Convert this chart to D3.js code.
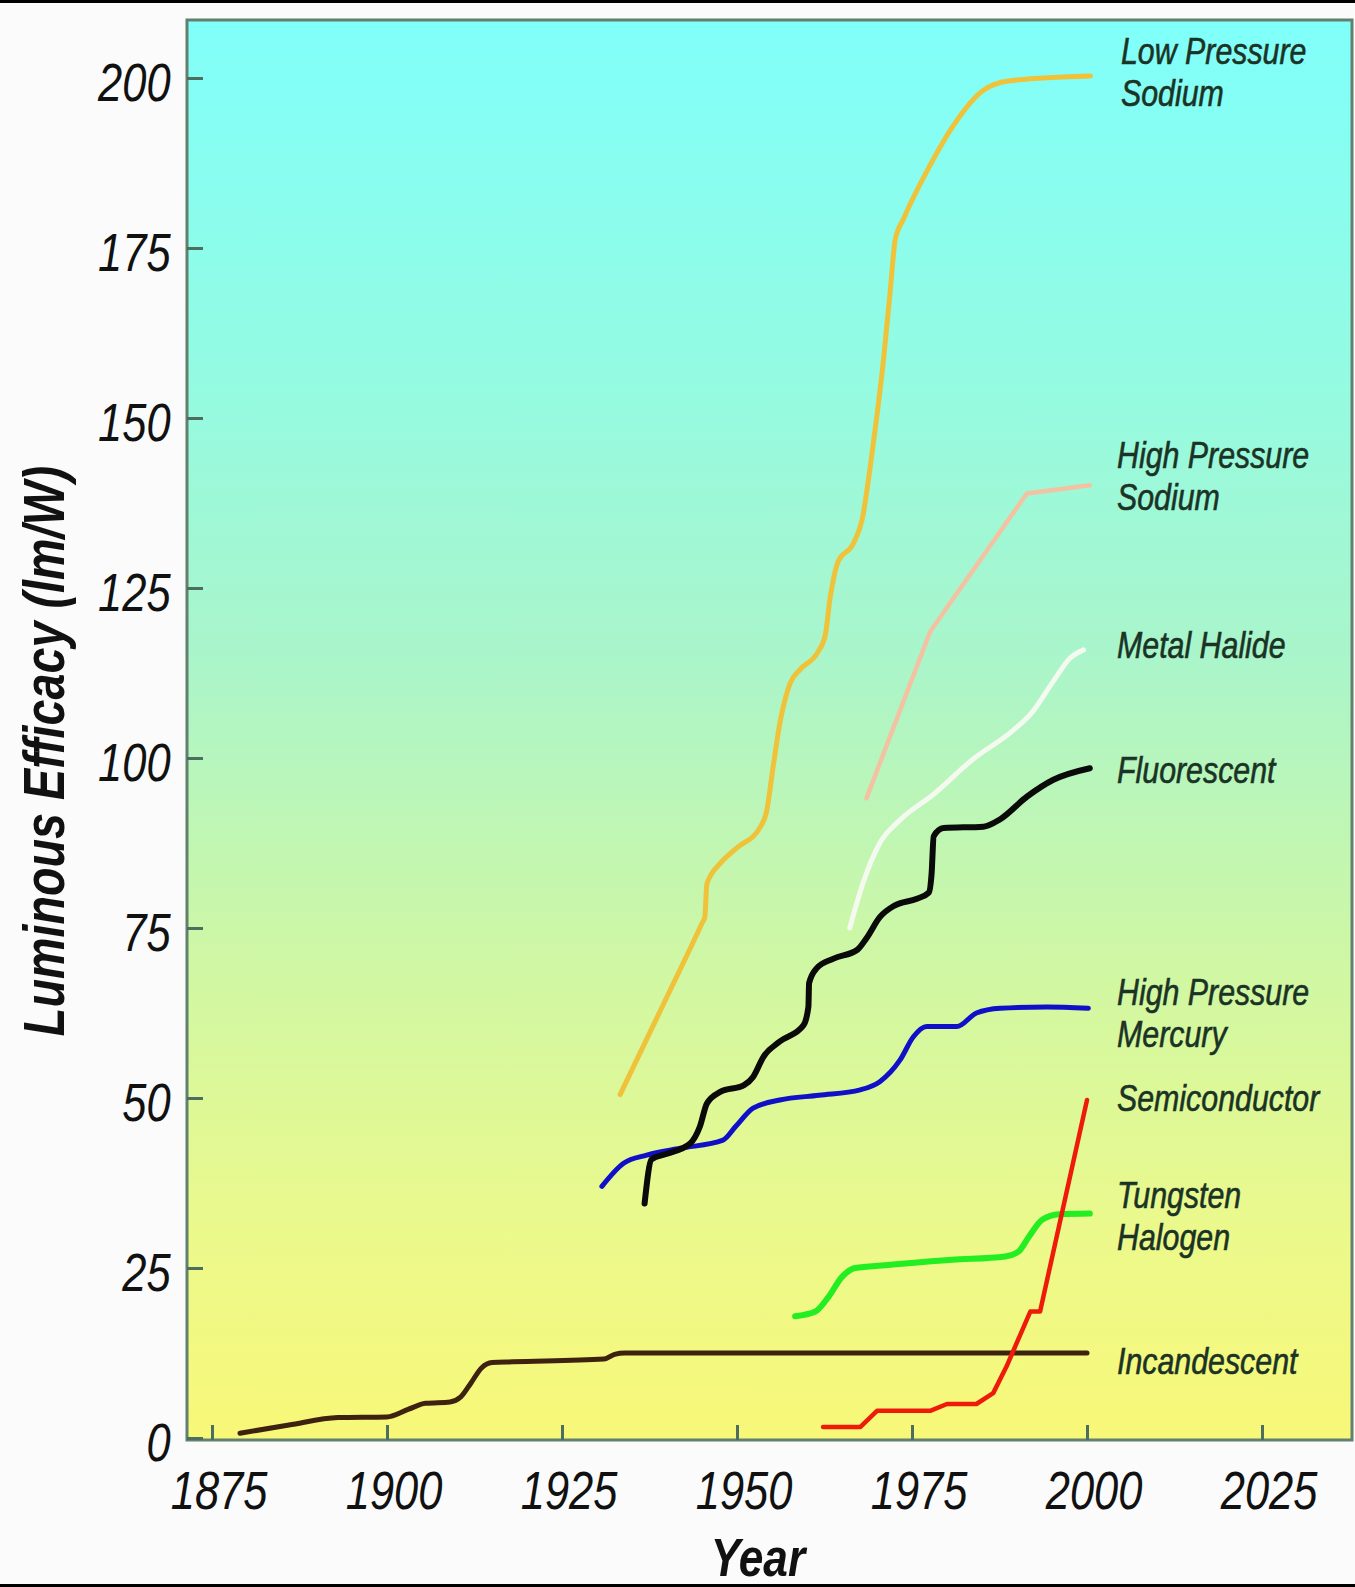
<!DOCTYPE html>
<html lang="en">
<head>
<meta charset="utf-8">
<title>Luminous Efficacy</title>
<script src="https://cdn.jsdelivr.net/npm/d3@7/dist/d3.min.js"></script>
<style>
  body { margin: 0; background: #fbfbfb; }
  svg text { font-family: 'Liberation Sans', Arial, sans-serif; font-style: italic; }
</style>
</head>
<body>
<script>

// ticks
var yearTicks = [1875, 1900, 1925, 1950, 1975, 2000, 2025];
var efficacyTicks = [0, 25, 50, 75, 100, 125, 150, 175, 200];

// series: [year, lm/W]
var incandescent = [[1879,0.7],[1886,1.9],[1893,3.0],[1900,3.1],[1903,4.2],[1905.5,5.1],[1909,5.3],[1910.5,6.0],
  [1912,8.1],[1913.5,10.3],[1915,11.1],[1918,11.2],[1931,11.6],[1932.5,12.3],[1934,12.5],[1960,12.5],[2000,12.5]];
var lowPressureSodium = [[1933.3,50.5],[1939.4,63.6],[1945,75.7],[1945.4,76.6],[1945.7,81.5],[1947.6,84.5],[1950,86.8],
  [1953.3,89.8],[1954.2,92],[1955.2,99],[1956.1,105],[1957.6,111],[1959,113],[1961.5,115.5],[1962.6,118],[1963.3,123.5],
  [1964.5,129],[1966.6,131.5],[1968,135.7],[1969,142.6],[1970,150.4],[1970.9,158.3],[1971.9,168.8],[1972.6,176.2],
  [1973.8,179.3],[1977.6,187.2],[1980.9,193],[1985.2,198.2],[1989,199.6],[2000.5,200.3]];
var highPressureSodium = [[1968.5,94.1],[1977.6,118.6],[1991.4,138.9],[2000.4,140.1]];
var metalHalide = [[1966.1,75],[1968,81.6],[1970.4,87.5],[1973.3,90.9],[1978,94.6],[1983.8,99.9],[1989,103.7],
  [1991.9,106.4],[1995.2,111.3],[1997.6,114.7],[1999.5,115.9]];
var fluorescent = [[1936.8,34.5],[1937.8,41],[1940,41.8],[1943.3,43.3],[1944.7,45.8],[1945.7,49.2],[1947.6,50.9],
  [1951,51.9],[1952.3,53.1],[1953.8,56.1],[1956.1,58.3],[1959.5,60.7],[1960.2,63.4],[1960.3,66.9],[1961.4,69.1],
  [1963.8,70.5],[1967.2,71.8],[1968.5,73.5],[1970.4,76.6],[1972.5,78.3],[1975.7,79.3],[1977.4,80.2],[1977.8,83],
  [1978.1,88.5],[1979.5,89.7],[1985.2,89.9],[1987.6,91],[1991.4,94.3],[1995.2,96.8],[2000.4,98.5]];
var highPressureMercury = [[1930.7,37],[1933.8,40.4],[1937.1,41.6],[1941.9,42.6],[1948,43.8],[1949.8,45.8],
  [1952.3,48.5],[1956.1,49.7],[1961.7,50.4],[1967.6,51.2],[1970.4,52.4],[1973.3,55.6],[1975.2,59],[1977.1,60.5],
  [1981.4,60.5],[1984.2,62.5],[1987.6,63.2],[1994.2,63.4],[2000.2,63.2]];
var tungstenHalogen = [[1958.3,17.9],[1961.2,18.6],[1963.1,20.8],[1965,23.7],[1966.9,25],[1971.2,25.4],[1980.7,26.2],
  [1988.3,26.7],[1990.2,27.4],[1991.7,29.6],[1993.6,32.1],[1996,32.9],[2000.4,33]];
var semiconductor = [[1962.3,1.6],[1967.6,1.6],[1970,4],[1977.6,4],[1980,5],[1984.2,5],[1986.6,6.6],[1988.5,10.5],
  [1991.9,18.6],[1993.3,18.6],[2000,49.7]];

// label text and the level (lm/W) of its first line
var labelNames = [["Low Pressure","Sodium"],["High Pressure","Sodium"],["Metal Halide"],["Fluorescent"],
  ["High Pressure","Mercury"],["Semiconductor"],["Tungsten","Halogen"],["Incandescent"]];
var labelLevels = [202, 142.6, 114.7, 96.3, 63.7, 48.1, 33.8, 9.4];

var W = 1355, H = 1587;
var frame = {left: 187, top: 20, right: 1352, bottom: 1440};
var narrow = "scale(0.82,1)";

var x = d3.scaleLinear().domain([1875, 2000]).range([212, 1087]);
var y = d3.scaleLinear().domain([0, 200]).range([1438, 78]);

var svg = d3.select("body").append("svg").attr("width", W).attr("height", H);

var grad = svg.append("defs").append("linearGradient").attr("id", "bg")
  .attr("x1", 0).attr("y1", 0).attr("x2", 0).attr("y2", 1);
[[0, "#80fffa"], [0.25, "#94fbe2"], [0.45, "#aaf5ca"], [0.65, "#cdf7a6"], [0.85, "#ebf98c"], [1, "#f8f878"]]
  .forEach(function(s){ grad.append("stop").attr("offset", s[0]).attr("stop-color", s[1]); });

svg.append("rect").attr("x", 0).attr("y", 0).attr("width", W).attr("height", 3).attr("fill", "#000");
svg.append("rect").attr("x", 0).attr("y", H - 3).attr("width", W).attr("height", 3).attr("fill", "#000");

svg.append("rect")
  .attr("x", frame.left).attr("y", frame.top)
  .attr("width", frame.right - frame.left).attr("height", frame.bottom - frame.top)
  .attr("fill", "url(#bg)").attr("stroke", "#62806e").attr("stroke-width", 3);

// axes
var yAxis = svg.append("g").attr("transform", "translate(" + frame.left + ",0)")
  .call(d3.axisLeft(y).tickValues(efficacyTicks).tickSize(-16).tickPadding(20));
var xAxis = svg.append("g").attr("transform", "translate(0," + frame.bottom + ")")
  .call(d3.axisBottom(x).tickValues(yearTicks).tickFormat(d3.format("d")).tickSize(-15).tickPadding(31));

[yAxis, xAxis].forEach(function(g){
  g.select(".domain").remove();
  g.selectAll(".tick line").attr("stroke", "#4d6e5e").attr("stroke-width", 3);
  g.selectAll(".tick text").attr("fill", "#111").style("font-size", "53px").attr("transform", narrow);
});
yAxis.selectAll(".tick text").attr("dy", "0.42em");
xAxis.selectAll(".tick text").attr("dx", 8);

svg.append("text").text("Year")
  .attr("transform", "translate(758,1576) " + narrow).attr("text-anchor", "middle")
  .attr("fill", "#111").style("font-size", "54px").style("font-weight", "bold");

svg.append("text").text("Luminous Efficacy (lm/W)")
  .attr("transform", "translate(64,751) rotate(-90) " + narrow).attr("text-anchor", "middle")
  .attr("fill", "#111").style("font-size", "57px").style("font-weight", "bold");

// lines
var line = d3.line().x(function(d){ return x(d[0]); }).y(function(d){ return y(d[1]); });

var series = [
  {data: incandescent, color: "#3e2210", width: 5, curve: d3.curveMonotoneX},
  {data: lowPressureSodium, color: "#efc23a", width: 5, curve: d3.curveMonotoneX},
  {data: highPressureSodium, color: "#f3c2a2", width: 4.5, curve: d3.curveLinear},
  {data: metalHalide, color: "#f5faf0", width: 5, curve: d3.curveMonotoneX},
  {data: highPressureMercury, color: "#1010c8", width: 5, curve: d3.curveMonotoneX},
  {data: fluorescent, color: "#0a0a0a", width: 6, curve: d3.curveMonotoneX},
  {data: tungstenHalogen, color: "#22ee22", width: 6, curve: d3.curveMonotoneX},
  {data: semiconductor, color: "#ee1a0a", width: 4.5, curve: d3.curveLinear}
];

svg.append("g").selectAll("path").data(series).enter().append("path")
  .attr("d", function(s){ return line.curve(s.curve)(s.data); })
  .attr("fill", "none")
  .attr("stroke", function(s){ return s.color; })
  .attr("stroke-width", function(s){ return s.width; })
  .attr("stroke-linecap", "round").attr("stroke-linejoin", "round");

// series labels
var labels = svg.append("g").selectAll("text").data(labelNames).enter().append("text")
  .attr("transform", function(d, i){
    return "translate(" + (i === 0 ? 1121 : 1117) + "," + y(labelLevels[i]) + ") " + narrow;
  })
  .attr("fill", "#1a3325").attr("stroke", "#1a3325").attr("stroke-width", 0.6)
  .style("font-size", "37px");

labels.selectAll("tspan").data(function(d){ return d; }).enter().append("tspan")
  .attr("x", 0)
  .attr("dy", function(d, i){ return i === 0 ? 0 : 42; })
  .text(function(d){ return d; });

</script>
</body>
</html>
